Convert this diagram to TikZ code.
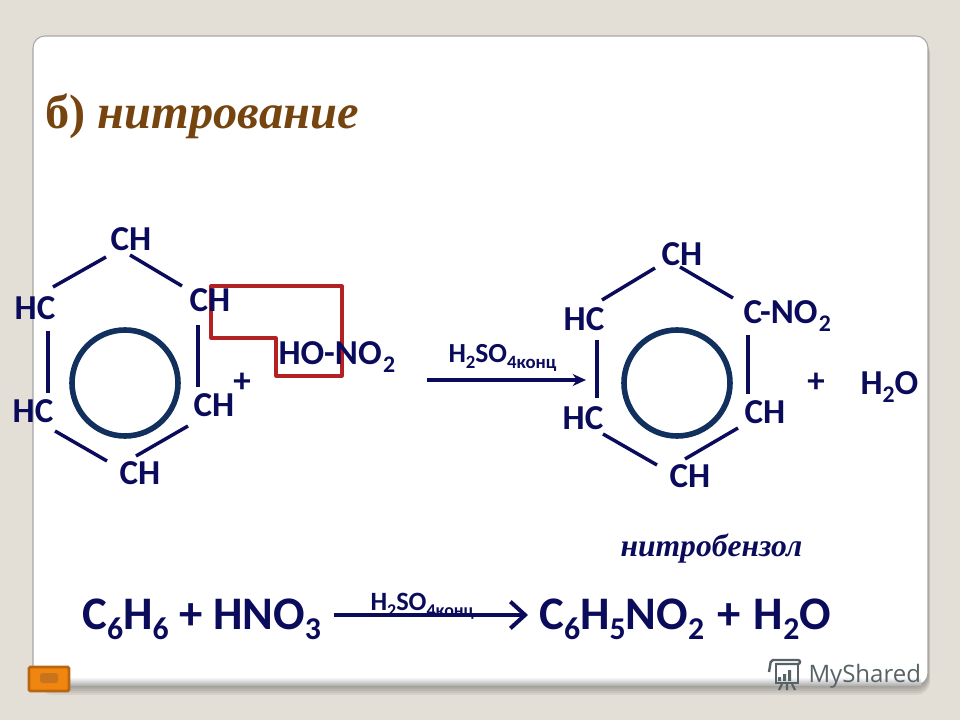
\documentclass[tikz,border=0pt]{standalone}
\usepackage{fontspec}
\setmainfont{Carlito}
\newfontfamily\timesfont{Liberation Serif}
\newfontfamily\markfont{Open Sans}
\usetikzlibrary{arrows.meta}

\definecolor{pagegrey}{HTML}{E3DFD6}
\definecolor{inknavy}{HTML}{0B0B5C}
\definecolor{ringblue}{HTML}{12305E}
\definecolor{framered}{HTML}{B22222}
\definecolor{titlebrown}{HTML}{75440F}
\definecolor{markgrey}{HTML}{566266}
\definecolor{btnfill}{HTML}{F0860F}
\definecolor{btnedge}{HTML}{B8670F}
\definecolor{btnmark}{HTML}{C9741C}

\newcommand{\lowtxt}[1]{\raisebox{-.23em}{\scalebox{.68}{#1}}}

\tikzset{every picture/.style={line width=0.75pt},
  chem/.style={inner sep=0pt,text=inknavy,font=\fontsize{26.25}{30}\selectfont\bfseries},
  chembase/.style={chem,anchor=base west},
  eqn/.style={inner sep=0pt,anchor=base west,text=inknavy,font=\fontsize{35}{40}\selectfont\bfseries},
  catal/.style={inner sep=0pt,anchor=base west,text=inknavy,font=\fontsize{19.8}{22}\selectfont\bfseries},
  bond/.style={draw=inknavy,line width=2.6pt},
  ring/.style={draw=ringblue,line width=4.2pt},
  redframe/.style={draw=framered,line width=2.4pt,line join=round}}

\begin{document}
\begin{tikzpicture}[x=0.75pt,y=0.75pt,yscale=-1,xscale=1]

\useasboundingbox (0,0) rectangle (960,720);
\fill[pagegrey] (0,0) rectangle (960,720);

\foreach \i in {1,2,...,6}
  \fill[black,opacity=0.06,rounded corners=10pt] (33+\i,40) rectangle (928+\i/3,684+1.8*\i);

\fill[white,draw=gray!70,line width=0.8pt,rounded corners=9pt] (33,36) rectangle (928,685);
\shade[top color=white,bottom color=black!30] (40,677) rectangle (921,685);

\draw (45,129) node [inner sep=0pt,anchor=base west,text=titlebrown,font=\timesfont\fontsize{36.3}{42}\selectfont\bfseries] (titleText) {б) \textit{нитрование}};

\draw[redframe] (211,286) -- (342,286) -- (342,376) -- (276,376) -- (276,338) -- (211,338) -- cycle ;

\draw (131,239) node [chem] (chTopA) {CH};
\draw (35,308) node [chem] (hcUpA) {HC};
\draw (210,300) node [chem] (chUpA) {CH};
\draw (33,411) node [chem] (hcLowA) {HC};
\draw (214,405) node [chem] (chLowA) {CH};
\draw (140,473) node [chem] (chBotA) {CH};

\draw[bond] ([shift={(-25,18)}]chTopA.center) -- ([shift={(18,-21)}]hcUpA.center);
\draw[bond] ([shift={(-1,16)}]chTopA.center) -- ([shift={(-28,-14)}]chUpA.center);
\draw[bond] ([shift={(13,23)}]hcUpA.center) -- ([shift={(15,-18)}]hcLowA.center);
\draw[bond] ([shift={(-12,25)}]chUpA.center) -- ([shift={(-16,-18)}]chLowA.center);
\draw[bond] ([shift={(22,20)}]hcLowA.center) -- ([shift={(-33,-12)}]chBotA.center);
\draw[bond] ([shift={(-4,-17)}]chBotA.center) -- ([shift={(-26,21)}]chLowA.center);

\draw[ring] (125,383) circle (53);

\draw (242,383) node [chem] (plusA) {+};
\draw (278,364) node [chembase] (hoNo) {HO-NO\hspace{1pt}\lowtxt{2}};

\draw (448,362) node [catal,font=\fontsize{20.7}{23}\selectfont\bfseries] (catalTop) {H\lowtxt{2}SO\lowtxt{4конц}};
\coordinate (arrowStart) at (427,380);
\coordinate (arrowEnd) at (586,380);
\draw[draw=inknavy,line width=3pt,-{Stealth[length=10pt,width=9pt]}] (arrowStart) -- (arrowEnd);

\draw (682,254) node [chem] (chTopB) {CH};
\draw (584,319) node [chem] (hcUpB) {HC};
\draw (743,323) node [chembase] (cNoB) {C-NO\hspace{1pt}\lowtxt{2}};
\draw (583,418) node [chem] (hcLowB) {HC};
\draw (765,412) node [chem] (chLowB) {CH};
\draw (690,476) node [chem] (chBotB) {CH};

\draw[bond] ([shift={(-27,14)}]chTopB.center) -- ([shift={(18,-19)}]hcUpB.center);
\draw[bond] ([shift={(-2,13)}]chTopB.center) -- ([shift={(-10,-25)}]cNoB.base west);
\draw[bond] ([shift={(13,21)}]hcUpB.center) -- ([shift={(14,-20)}]hcLowB.center);
\draw[bond] ([shift={(5,12)}]cNoB.base west) -- ([shift={(-17,-18)}]chLowB.center);
\draw[bond] ([shift={(20,16)}]hcLowB.center) -- ([shift={(-33,-11)}]chBotB.center);
\draw[bond] ([shift={(-5,-17)}]chBotB.center) -- ([shift={(-27,16)}]chLowB.center);

\draw[ring] (677,383) circle (53);

\draw (816,383) node [chem] (plusB) {+};
\draw (860,394) node [chembase] (waterB) {H\lowtxt{2}O};

\draw (620,556) node [inner sep=0pt,anchor=base west,text=inknavy,font=\timesfont\fontsize{23.7}{26}\selectfont\bfseries\itshape] (productName) {нитробензол};

\draw (82,629) node [eqn] (eqLeft) {C\lowtxt{6}H\lowtxt{6} + HNO\lowtxt{3}};
\draw (539,629) node [eqn] (eqRight) {C\lowtxt{6}H\lowtxt{5}NO\lowtxt{2}\hspace{2pt} + \hspace{2pt}H\lowtxt{2}O};
\draw (370,610) node [catal] (catalBot) {H\lowtxt{2}SO\lowtxt{4конц}};
\draw[draw=inknavy,line width=3pt,-{Straight Barb[length=11pt,width=20pt]}] ([shift={(13,-14)}]eqLeft.base east) -- ([shift={(-11,-14)}]eqRight.base west);

\fill[rounded corners=1pt,fill=btnfill,draw=btnedge,line width=2.2pt] (29,667) rectangle (69,691);
\fill[btnmark,rounded corners=2pt] (40,673) rectangle (58,683);

\draw (808,682) node [inner sep=0pt,anchor=base west,text=markgrey,font=\markfont\fontsize{18}{20}\selectfont] (markText) {MyShared};
\draw[markgrey,line width=1.6pt] (776,664) rectangle (798,683);
\draw[markgrey,line width=1.8pt,rounded corners=1.5pt] (769,672) -- (771,660) -- (800,660) -- (800,664) -- (776,664);
\fill[markgrey] (778,677) rectangle (781,681) (783,674) rectangle (786,681) (788,670) rectangle (791,681);
\draw[markgrey,line width=1.6pt] (782,684) -- (779,690) (787,684) -- (787,690) (792,684) -- (795,690);

\end{tikzpicture}
\end{document}
